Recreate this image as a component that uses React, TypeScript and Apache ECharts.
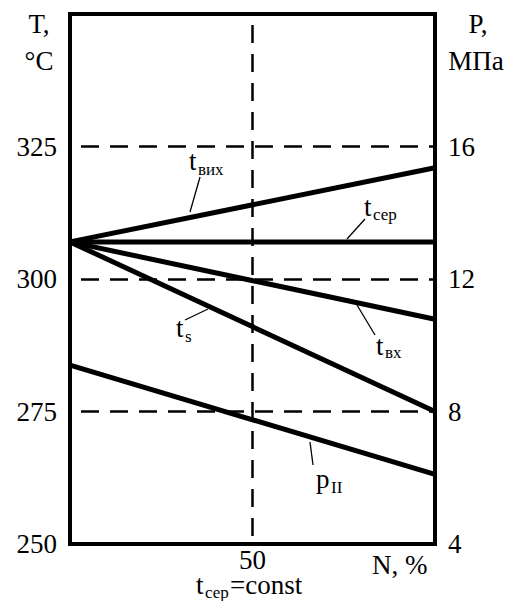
import React, { useEffect, useRef } from "react";
import * as echarts from "echarts";

// Data
const loadPercent = [0, 100];
const tVykh = [307, 321]; // t_вих, °C
const tSer = [307, 307]; // t_сер, °C
const tVkh = [307, 292.4]; // t_вх, °C
const tSat = [307, 275]; // t_s, °C
const pII = [9.4, 6.1]; // p_II, MPa (right axis)

const tempTicks = [250, 275, 300, 325];
const pressTicks = [4, 8, 12, 16];
const loadTicks = [50];

const FONT = "Liberation Serif, Times New Roman, serif";
const BIG = 27;
const SUB = 17;

function pairs(ys: number[]) {
  return loadPercent.map((x, i) => [x, ys[i]]);
}

function mainText(x: number, baseline: number, text: string, align = "left") {
  return {
    type: "text",
    x,
    y: baseline - BIG * 0.3375,
    silent: true,
    style: {
      text,
      fill: "#000",
      fontFamily: FONT,
      fontSize: BIG,
      lineHeight: 20,
      align,
      verticalAlign: "middle",
    },
  };
}
function subText(x: number, baseline: number, text: string) {
  return {
    type: "text",
    x,
    y: baseline - SUB * 0.3375,
    silent: true,
    style: {
      text,
      fill: "#000",
      fontFamily: FONT,
      fontSize: SUB,
      lineHeight: 13,
      align: "left",
      verticalAlign: "middle",
    },
  };
}
function leader(x1: number, y1: number, x2: number, y2: number) {
  return {
    type: "line",
    silent: true,
    shape: { x1, y1, x2, y2 },
    style: { stroke: "#000", lineWidth: 1.3 },
  };
}

export default function App() {
  const ref = useRef<HTMLDivElement>(null);
  useEffect(() => {
    document.body.style.margin = "0";
    const chart = echarts.init(ref.current!, null, { renderer: "svg" });
    const lineSeries = (name: string, ys: number[], yAxisIndex = 0) => ({
      name,
      type: "line",
      yAxisIndex,
      data: pairs(ys),
      symbol: "none",
      lineStyle: { color: "#000", width: 5, cap: "butt" },
      z: 3,
    });
    const dashed = { color: "#000", width: 2.5, type: [18, 11], dashOffset: 18 };
    chart.setOption({
      animation: false,
      backgroundColor: "#fff",
      textStyle: { fontFamily: FONT },
      grid: {
        left: 70,
        right: 75,
        top: 14,
        bottom: 57,
        show: true,
        borderColor: "#000",
        borderWidth: 4,
        backgroundColor: "transparent",
      },
      xAxis: {
        type: "value",
        min: 0,
        max: 100,
        interval: 50,
        axisLine: { show: false },
        axisTick: { show: false },
        axisLabel: {
          margin: 6,
          fontFamily: FONT,
          fontSize: BIG,
          lineHeight: 20,
          color: "#000",
          formatter: (v: number) => (loadTicks.includes(v) ? String(v) : ""),
        },
        splitLine: { show: true, lineStyle: dashed },
      },
      yAxis: [
        {
          type: "value",
          min: 250,
          max: 350,
          interval: 25,
          axisLine: { show: false },
          axisTick: { show: false },
          axisLabel: {
            margin: 13,
            fontFamily: FONT,
            fontSize: BIG,
            color: "#000",
            formatter: (v: number) => (tempTicks.includes(v) ? String(v) : ""),
          },
          splitLine: { show: true, lineStyle: dashed },
        },
        {
          type: "value",
          position: "right",
          min: 4,
          max: 20,
          interval: 4,
          axisLine: { show: false },
          axisTick: { show: false },
          axisLabel: {
            margin: 13,
            fontFamily: FONT,
            fontSize: BIG,
            color: "#000",
            formatter: (v: number) => (pressTicks.includes(v) ? String(v) : ""),
          },
          splitLine: { show: false },
        },
      ],
      series: [
        lineSeries("t_вих", tVykh),
        lineSeries("t_сер", tSer),
        lineSeries("t_вх", tVkh),
        lineSeries("t_s", tSat),
        lineSeries("p_II", pII, 1),
      ],
      graphic: [
        mainText(39, 33, "T,", "center"),
        mainText(39, 70, "°C", "center"),
        mainText(478, 33, "P,", "center"),
        mainText(476, 70, "МПа", "center"),
        mainText(372, 574, "N, %"),
        mainText(196, 594, "t"),
        subText(205, 598, "сер"),
        mainText(230, 594, "=const"),
        // t_вих
        mainText(189, 170, "t"),
        subText(198, 175, "вих"),
        leader(190, 212, 200, 177),
        // t_сер
        mainText(364, 216, "t"),
        subText(373, 220, "сер"),
        leader(347, 239, 365, 219),
        // t_вх
        mainText(376, 355, "t"),
        subText(385, 358, "вх"),
        leader(357, 305, 375, 335),
        // t_s
        mainText(176, 337, "t"),
        subText(185, 342, "s"),
        leader(185, 320, 208, 309),
        // p_II
        mainText(316, 488, "p"),
        subText(331, 493, "II"),
        leader(310, 442, 313, 465),
      ],
    });
    return () => chart.dispose();
  }, []);
  return (
    <div
      ref={ref}
      style={{ position: "fixed", left: 0, top: 0, width: 510, height: 601, background: "#fff" }}
    />
  );
}
